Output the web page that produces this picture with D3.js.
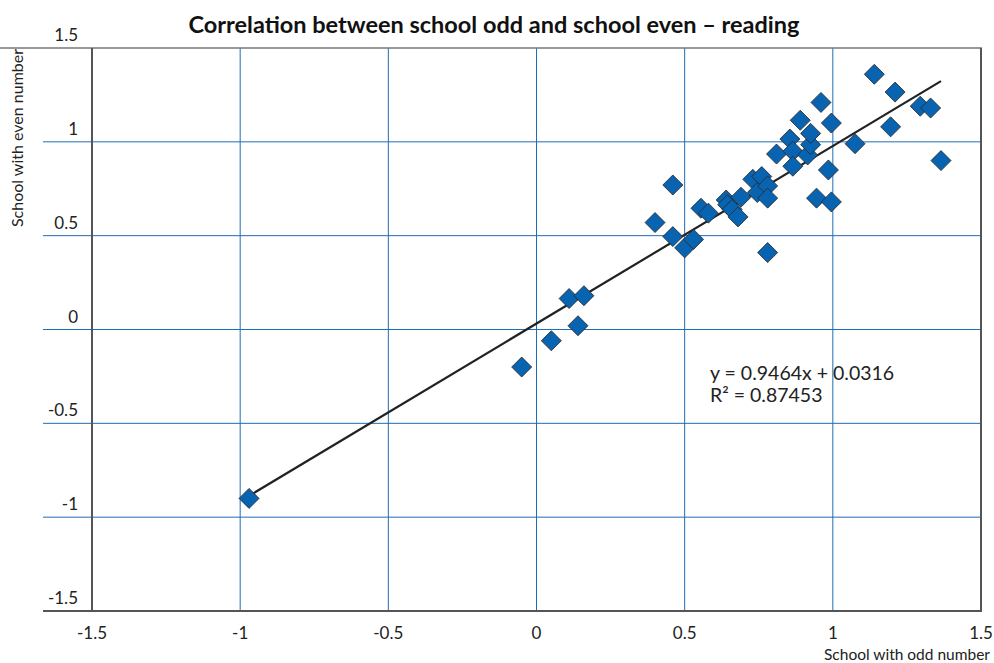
<!DOCTYPE html>
<html>
<head>
<meta charset="utf-8">
<script src="https://cdn.jsdelivr.net/npm/d3@7"></script>
<style>
  body { margin: 0; background: #fff; }
  text { font-family: Lato, "Open Sans", sans-serif; }
</style>
</head>
<body>
<svg id="chart" width="994" height="663"></svg>
<script>
// values
const oddScores = [
  -0.97, -0.05, 0.05, 0.14, 0.11, 0.16,
  0.40, 0.46, 0.46, 0.50, 0.53, 0.555, 0.58,
  0.64, 0.645, 0.66, 0.68, 0.69, 0.73, 0.745, 0.76, 0.78, 0.78, 0.78,
  0.81, 0.855, 0.865, 0.865, 0.89, 0.915, 0.925, 0.925, 0.945, 0.96,
  0.985, 0.995, 0.995, 1.075, 1.195, 1.21, 1.14, 1.295, 1.33, 1.365
];
const evenScores = [
  -0.90, -0.20, -0.06, 0.02, 0.165, 0.18,
  0.57, 0.77, 0.495, 0.435, 0.48, 0.646, 0.62,
  0.69, 0.665, 0.64, 0.60, 0.705, 0.80, 0.73, 0.815, 0.765, 0.70, 0.41,
  0.935, 1.015, 0.95, 0.87, 1.115, 0.93, 0.985, 1.045, 0.70, 1.21,
  0.85, 1.10, 0.68, 0.99, 1.08, 1.265, 1.36, 1.19, 1.18, 0.90
];
const tickValues = [-1.5, -1, -0.5, 0, 0.5, 1, 1.5];
const trend = { slope: 0.9464, intercept: 0.0316, r2: '0.87453' };

const title = 'Correlation between school odd and school even \u2013 reading';
const xTitle = 'School with odd number';
const yTitle = 'School with even number';

const config = {
  left: 92, right: 981, top: 48, bottom: 611,
  colors: { grid: '#1f6db4', marker: '#0863b0', axis: '#555', text: '#222' }
};

const svg = d3.select('#chart');
const x = d3.scaleLinear().domain([-1.5, 1.5]).range([config.left, config.right]);
const y = d3.scaleLinear().domain([-1.5, 1.5]).range([config.bottom, config.top]);

const inner = tickValues.filter(t => Math.abs(t) < 1.5);

// grid lines
svg.append('g').selectAll('line').data(inner).join('line')
  .attr('x1', d => x(d)).attr('x2', d => x(d))
  .attr('y1', config.top).attr('y2', config.bottom)
  .attr('stroke', config.colors.grid).attr('stroke-width', 1);

svg.append('g').selectAll('line').data(inner).join('line')
  .attr('x1', 43).attr('x2', config.right)
  .attr('y1', d => y(d)).attr('y2', d => y(d))
  .attr('stroke', config.colors.grid).attr('stroke-width', 1);

// frame
const frame = svg.append('g').attr('stroke', config.colors.axis).attr('stroke-width', 2);
frame.append('line').attr('x1', 0).attr('x2', config.right + 1).attr('y1', config.top).attr('y2', config.top).attr('stroke', '#777').attr('stroke-width', 1.5);
frame.append('line').attr('x1', 43).attr('x2', config.right + 1).attr('y1', config.bottom).attr('y2', config.bottom);
frame.append('line').attr('x1', config.left).attr('x2', config.left).attr('y1', config.top).attr('y2', config.bottom);
frame.append('line').attr('x1', config.right).attr('x2', config.right).attr('y1', config.top).attr('y2', config.bottom);

// tick labels (plain hyphen for negatives, like the original)
svg.append('g').selectAll('text').data(tickValues).join('text')
  .attr('x', 78).attr('y', d => y(d) - 7)
  .attr('text-anchor', 'end')
  .attr('font-size', 17).attr('fill', config.colors.text)
  .text(d => String(d));

svg.append('g').selectAll('text').data(tickValues).join('text')
  .attr('x', d => x(d)).attr('y', 639)
  .attr('text-anchor', 'middle')
  .attr('font-size', 17).attr('fill', config.colors.text)
  .text(d => String(d));

// titles
svg.append('text').attr('x', 494).attr('y', 33)
  .attr('text-anchor', 'middle').attr('font-size', 23.5).attr('font-weight', 'bold')
  .attr('fill', '#111').text(title);

svg.append('text').attr('x', 990).attr('y', 660)
  .attr('text-anchor', 'end').attr('font-size', 15.5).attr('fill', config.colors.text)
  .text(xTitle);

svg.append('text').attr('transform', 'translate(23,138) rotate(-90)')
  .attr('text-anchor', 'middle').attr('font-size', 16).attr('fill', config.colors.text)
  .text(yTitle);

// trend line over the data extent
const [xMin, xMax] = d3.extent(oddScores);
const line = d3.line().x(d => x(d)).y(d => y(trend.slope * d + trend.intercept));
svg.append('path').datum([xMin, xMax]).attr('d', line)
  .attr('stroke', '#222').attr('stroke-width', 2.2).attr('fill', 'none');

// markers
const points = oddScores.map((v, i) => [v, evenScores[i]]);
svg.append('g').selectAll('path').data(points).join('path')
  .attr('d', d3.symbol(d3.symbolSquare, 200))
  .attr('transform', d => `translate(${x(d[0])},${y(d[1])}) rotate(45)`)
  .attr('fill', config.colors.marker).attr('stroke', '#2a2a2a').attr('stroke-width', 0.8);

// equation
const eq = svg.append('text').attr('font-size', 19.5).attr('fill', config.colors.text);
eq.append('tspan').attr('x', 710).attr('y', 380)
  .text(`y = ${trend.slope}x + ${trend.intercept}`);
eq.append('tspan').attr('x', 710).attr('y', 402)
  .text(`R\u00b2 = ${trend.r2}`);
</script>
</body>
</html>
